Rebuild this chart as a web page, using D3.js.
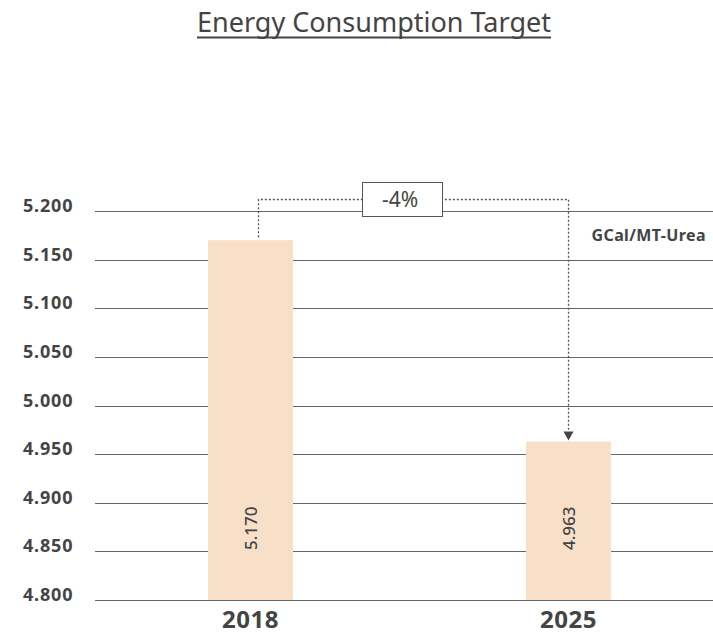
<!DOCTYPE html>
<html>
<head>
<meta charset="utf-8">
<script src="https://cdn.jsdelivr.net/npm/d3@7"></script>
<style>
  body { margin: 0; background: #fff; }
  svg { display: block; font-family: "Noto Sans", "Open Sans", sans-serif; }
</style>
</head>
<body>
<svg id="chart" width="713" height="634"></svg>
<script>
// data
const years = ["2018", "2025"];
const values = [5.170, 4.963];
const valueLabels = ["5.170", "4.963"];
const yTicks = [4.800, 4.850, 4.900, 4.950, 5.000, 5.050, 5.100, 5.150, 5.200];
const changeLabel = "-4%";
const unitLabel = "GCal/MT-Urea";
const title = "Energy Consumption Target";

const width = 713, height = 634;
const gridLeft = 95, gridRight = 713;
const barWidth = 85;
const textColor = "#444";

const svg = d3.select("#chart");

const y = d3.scaleLinear().domain([4.8, 5.2]).range([600, 211]);
const x = d3.scalePoint().domain(years).range([250.5, 568.5]);

// title (underlined)
const t = svg.append("text")
    .attr("x", 374)
    .attr("y", 32)
    .attr("text-anchor", "middle")
    .attr("fill", textColor)
    .style("font-size", "27px")
    .text(title);
const tw = t.node().getComputedTextLength();
svg.append("line")
    .attr("x1", 374 - tw / 2).attr("x2", 374 + tw / 2)
    .attr("y1", 37.5).attr("y2", 37.5)
    .attr("stroke", textColor).attr("stroke-width", 2);

// gridlines
svg.append("g").selectAll("line")
    .data(yTicks)
    .enter().append("line")
    .attr("x1", gridLeft).attr("x2", gridRight)
    .attr("y1", d => Math.round(y(d)) + 0.5)
    .attr("y2", d => Math.round(y(d)) + 0.5)
    .attr("stroke", "#666")
    .attr("stroke-width", 1);

// y tick labels
svg.append("g").selectAll("text")
    .data(yTicks)
    .enter().append("text")
    .attr("x", 23)
    .attr("y", d => y(d) + 1)
    .attr("fill", textColor)
    .style("font-size", "18px")
    .style("font-weight", "bold")
    .style("letter-spacing", "0.8px")
    .text(d3.format(".3f"));

// bars
svg.append("g").selectAll("rect")
    .data(values)
    .enter().append("rect")
    .attr("x", (d, i) => x(years[i]) - barWidth / 2)
    .attr("y", d => y(d))
    .attr("width", barWidth)
    .attr("height", d => y(4.8) - y(d))
    .attr("fill", "#f7dfc8");

// value labels (rotated)
svg.append("g").selectAll("text")
    .data(valueLabels)
    .enter().append("text")
    .attr("transform", (d, i) => `translate(${x(years[i]) + 6}, 550) rotate(-90)`)
    .attr("fill", textColor)
    .style("font-size", "17px")
    .style("font-weight", 500)
    .text(d => d);

// category labels
svg.append("g").selectAll("text")
    .data(years)
    .enter().append("text")
    .attr("x", d => x(d))
    .attr("y", 628)
    .attr("text-anchor", "middle")
    .attr("fill", textColor)
    .style("font-size", "24px")
    .style("font-weight", "bold")
    .style("letter-spacing", "0.5px")
    .text(d => d);

// change bracket
const bx1 = x(years[0]) + 8, bx2 = x(years[1]);
const by = 199.5;
svg.append("path")
    .attr("d", `M${bx1},${y(values[0]) - 3}V${by}H${bx2}V${y(values[1]) - 10}`)
    .attr("fill", "none")
    .attr("stroke", "#555")
    .attr("stroke-width", 1.3)
    .attr("stroke-dasharray", "2,2");
svg.append("path")
    .attr("d", `M${bx2 - 5},${y(values[1]) - 10}L${bx2 + 5},${y(values[1]) - 10}L${bx2},${y(values[1]) - 1}Z`)
    .attr("fill", "#444");

svg.append("rect")
    .attr("x", 362.5).attr("y", 182.5)
    .attr("width", 80).attr("height", 34)
    .attr("fill", "#fff")
    .attr("stroke", "#555")
    .attr("stroke-width", 1);
svg.append("text")
    .attr("x", 400)
    .attr("y", 207)
    .attr("text-anchor", "middle")
    .attr("fill", textColor)
    .style("font-size", "21px")
    .text(changeLabel);

// unit
svg.append("text")
    .attr("x", 706)
    .attr("y", 241)
    .attr("text-anchor", "end")
    .attr("fill", textColor)
    .style("font-size", "16px")
    .style("font-weight", "bold")
    .style("letter-spacing", "0.4px")
    .text(unitLabel);
</script>
</body>
</html>
